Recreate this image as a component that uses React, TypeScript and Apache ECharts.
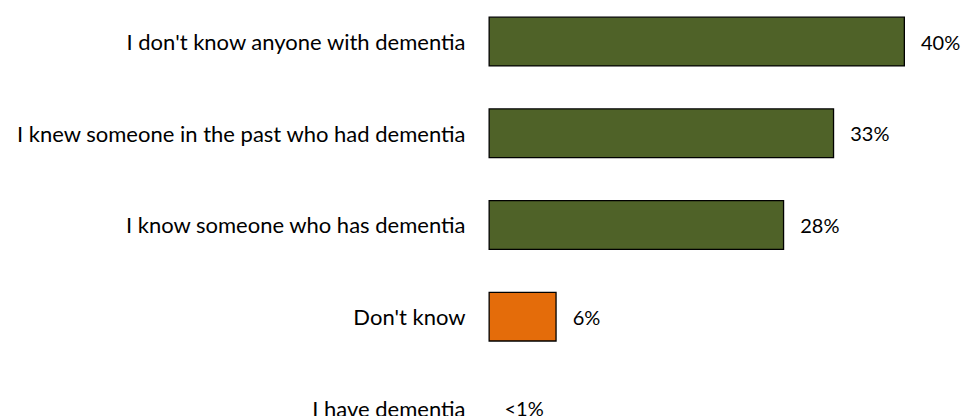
import React, { useEffect, useRef } from "react";
import * as echarts from "echarts";

const categories = [
  "I don't know anyone with dementia",
  "I knew someone in the past who had dementia",
  "I know someone who has dementia",
  "Don't know",
  "I have dementia",
];
const values = [40, 33.2, 28.4, 6.55, 0];
const valueLabels = ["40%", "33%", "28%", "6%", "<1%"];
const barColors = ["#4F6228", "#4F6228", "#4F6228", "#E46C0A", "#4F6228"];

const FONT = "Lato, 'Noto Sans', sans-serif";

export default function App() {
  const ref = useRef<HTMLDivElement>(null);
  useEffect(() => {
    if (!ref.current) return;
    const chart = echarts.init(ref.current, null, { renderer: "svg" });
    chart.setOption({
      animation: false,
      backgroundColor: "#ffffff",
      grid: {
        left: 488.5,
        width: 416.5,
        top: -4.3,
        height: 458.5,
        containLabel: false,
        outerBoundsMode: "none",
      },
      xAxis: {
        type: "value",
        min: 0,
        max: 40,
        show: false,
      },
      yAxis: {
        type: "category",
        inverse: true,
        data: categories,
        axisLine: { show: false },
        axisTick: { show: false },
        splitLine: { show: false },
        axisLabel: {
          margin: 23,
          color: "#000000",
          fontFamily: FONT,
          fontSize: 22,
        },
      },
      series: [
        {
          type: "bar",
          barWidth: 50,
          data: values.map((v, i) => ({
            value: v,
            itemStyle: {
              color: barColors[i],
              borderColor: v > 0 ? "#000000" : "transparent",
              borderWidth: v > 0 ? 1.3 : 0,
            },
          })),
          label: {
            show: true,
            position: "right",
            distance: 16,
            color: "#000000",
            fontFamily: FONT,
            fontSize: 20,
            formatter: (p: any) => valueLabels[p.dataIndex],
          },
        },
      ],
    });
    return () => chart.dispose();
  }, []);
  return (
    <div
      ref={ref}
      style={{ position: "fixed", left: 0, top: 0, width: 964, height: 416 }}
    />
  );
}
